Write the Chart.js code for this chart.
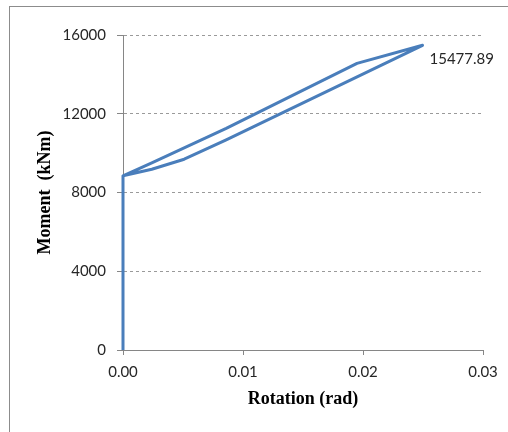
<!DOCTYPE html>
<html>
<head>
<meta charset="utf-8">
<script src="https://cdn.jsdelivr.net/npm/chart.js@4"></script>
<style>
    html, body { margin: 0; padding: 0; background: #fff; }
    #wrap { width: 508px; height: 432px; }
</style>
</head>
<body>
<div id="wrap"><canvas id="momentChart" width="508" height="432"></canvas></div>
<script>
// moment-rotation curve (loading up to the peak, then back)
const rotation = [0, 0, 0.0024, 0.0086, 0.0195, 0.02496, 0.0086, 0.0051, 0.0024, 0];
const moment = [0, 8850, 9510, 11260, 14560, 15477.89, 10670, 9690, 9180, 8850];
const peakIndex = 5;
const peakLabel = '15477.89';

const xTicks = [0, 0.01, 0.02, 0.03];
const yTicks = [0, 4000, 8000, 12000, 16000];

const tickFont = { family: 'Lato', size: 15 };
const titleFont = { family: 'Liberation Serif', size: 18, weight: 'bold' };

// outer frame of the chart
const framePlugin = {
    id: 'frame',
    beforeDraw(chart) {
        const ctx = chart.ctx;
        ctx.save();
        ctx.fillStyle = '#fff';
        ctx.fillRect(0, 0, chart.width, chart.height);
        ctx.strokeStyle = '#8c8c8c';
        ctx.lineWidth = 1;
        ctx.strokeRect(9.5, 6.5, 560, 480);
        ctx.restore();
    }
};

// value label next to the peak point
const peakLabelPlugin = {
    id: 'peakLabel',
    afterDatasetsDraw(chart) {
        const pt = chart.getDatasetMeta(0).data[peakIndex];
        if (!pt) return;
        const ctx = chart.ctx;
        ctx.save();
        ctx.font = '15px Lato';
        ctx.fillStyle = '#262626';
        ctx.textAlign = 'left';
        ctx.textBaseline = 'middle';
        ctx.fillText(peakLabel, pt.x + 7, pt.y + 14);
        ctx.restore();
    }
};

new Chart(document.getElementById('momentChart'), {
    type: 'line',
    data: {
        datasets: [{
            data: rotation.map((r, i) => ({ x: r, y: moment[i] })),
            borderColor: '#4a7ebb',
            borderWidth: 3,
            borderJoinStyle: 'round',
            pointRadius: 0,
            tension: 0,
            fill: false,
            clip: false
        }]
    },
    options: {
        responsive: false,
        animation: false,
        layout: { padding: { left: 10, right: 25, top: 35, bottom: 10 } },
        plugins: {
            legend: { display: false },
            tooltip: { enabled: false }
        },
        scales: {
            x: {
                type: 'linear',
                min: 0,
                max: 0.03,
                afterFit(scale) { scale.height = 72; },
                afterBuildTicks(scale) { scale.ticks = xTicks.map(v => ({ value: v })); },
                ticks: {
                    color: '#262626',
                    font: tickFont,
                    padding: 8,
                    maxRotation: 0,
                    callback: v => v.toFixed(2)
                },
                grid: {
                    drawOnChartArea: false,
                    tickLength: 5,
                    tickColor: '#868686'
                },
                border: { color: '#868686', width: 1 },
                title: {
                    display: true,
                    text: 'Rotation (rad)',
                    color: '#000',
                    font: titleFont,
                    padding: { top: 0, bottom: 12 }
                }
            },
            y: {
                min: 0,
                max: 16000,
                afterFit(scale) { scale.width = 113; },
                afterBuildTicks(scale) { scale.ticks = yTicks.map(v => ({ value: v })); },
                ticks: {
                    color: '#262626',
                    font: tickFont,
                    padding: 11,
                    callback: v => String(v)
                },
                grid: {
                    color: '#9a9a9a',
                    tickLength: 6,
                    tickColor: '#868686',
                    tickBorderDash: []
                },
                border: { color: '#868686', width: 1, dash: [3, 3] },
                title: {
                    display: true,
                    text: 'Moment  (kNm)',
                    color: '#000',
                    font: titleFont,
                    padding: { top: 25, bottom: 0 }
                }
            }
        }
    },
    plugins: [framePlugin, peakLabelPlugin]
});
</script>
</body>
</html>
